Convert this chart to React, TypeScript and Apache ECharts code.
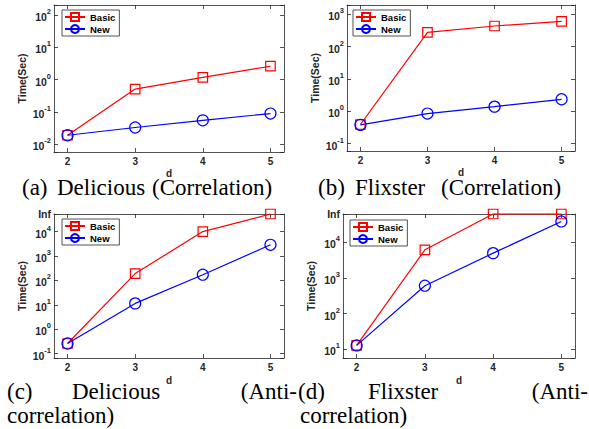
import React, { useEffect, useRef } from 'react';
import * as echarts from 'echarts';

// x values (d)
const dValues = [2, 3, 4, 5];

// (a) Delicious (Correlation)
const basicA = [0.019, 0.51, 1.18, 2.6];
const newA = [0.019, 0.033, 0.055, 0.089];
// (b) Flixster (Correlation)
const basicB = [0.39, 277, 437, 604];
const newB = [0.38, 0.85, 1.39, 2.35];
// (c) Delicious (Anti-correlation)
const basicC = [0.26, 190, 10000, Infinity];
const newC = [0.26, 11.4, 171, 2870];
// (d) Flixster (Anti-correlation)
const basicD = [12.7, 6200, Infinity, Infinity];
const newD = [12.7, 607, 5000, 39000];

const seriesNames = ['Basic', 'New'];
const yAxisName = 'Time(Sec)';
const xAxisName = 'd';

const SANS = '"Liberation Sans", Arial, Helvetica, sans-serif';
const SERIF = '"Liberation Serif", "Times New Roman", serif';
const AX = '#262626';

const panels = [
  { basic: basicA, neu: newA, yMin: Math.pow(10, -2.24), yMax: Math.pow(10, 2.31), hasInf: false, xNameGap: 16,
    grid: { left: 54, top: 5, width: 230, height: 147 }, legend: { left: 62, top: 10 } },
  { basic: basicB, neu: newB, yMin: Math.pow(10, -1.23), yMax: Math.pow(10, 3.29), hasInf: false, xNameGap: 16,
    grid: { left: 347, top: 5, width: 228, height: 146 }, legend: { left: 353, top: 10 } },
  { basic: basicC, neu: newC, yMin: Math.pow(10, -1.18), yMax: Math.pow(10, 4.72), hasInf: true, xNameGap: 17.5,
    grid: { left: 54, top: 214, width: 230, height: 144 }, legend: { left: 62, top: 219 } },
  { basic: basicD, neu: newD, yMin: Math.pow(10, 0.75), yMax: Math.pow(10, 4.8), hasInf: true, xNameGap: 17.5,
    grid: { left: 343, top: 214, width: 232, height: 144 }, legend: { left: 350, top: 220 } },
];

const captions = [
  { text: '(a)', x: 22, y: 187, align: 'left' },
  { text: 'Delicious', x: 57, y: 187, align: 'left' },
  { text: '(Correlation)', x: 152, y: 187, align: 'left' },
  { text: '(b)', x: 318, y: 187, align: 'left' },
  { text: 'Flixster', x: 355, y: 187, align: 'left' },
  { text: '(Correlation)', x: 441, y: 187, align: 'left' },
  { text: '(c)', x: 7, y: 391, align: 'left' },
  { text: 'Delicious', x: 72, y: 391, align: 'left' },
  { text: '(Anti-', x: 297, y: 391, align: 'right' },
  { text: 'correlation)', x: 7, y: 415, align: 'left' },
  { text: '(d)', x: 298, y: 391, align: 'left' },
  { text: 'Flixster', x: 368, y: 391, align: 'left' },
  { text: '(Anti-', x: 588, y: 391, align: 'right' },
  { text: 'correlation)', x: 300, y: 415, align: 'left' },
];

const axisLineStyle = { color: AX, width: 0.8 };

function makeFormatter(infVal: number | null) {
  return (v: number) => {
    if (infVal !== null && v >= infVal * 0.999) return '{n|Inf}';
    const l = Math.log10(v);
    const r = Math.round(l);
    if (Math.abs(l - r) > 1e-6) return '';
    return `{b|10}{s|${r}}`;
  };
}

const rich = {
  b: { fontFamily: SANS, fontWeight: 'bold', fontSize: 10.5, color: AX, lineHeight: 15, verticalAlign: 'bottom' },
  s: { fontFamily: SANS, fontWeight: 'bold', fontSize: 7.5, color: AX, verticalAlign: 'top' },
  n: { fontFamily: SANS, fontWeight: 'bold', fontSize: 10.5, color: AX, lineHeight: 15 },
};

function toPlot(v: number, yMax: number) {
  return Number.isFinite(v) ? v : yMax;
}

export default function App() {
  const ref = useRef<HTMLDivElement>(null);
  useEffect(() => {
    if (!ref.current) return;
    const chart = echarts.init(ref.current, null, { renderer: 'svg' });

    const grid = panels.map((p) => ({ ...p.grid }));
    const xAxis: any[] = [];
    const yAxis: any[] = [];
    const series: any[] = [];
    const legend: any[] = [];

    panels.forEach((p, i) => {
      xAxis.push({
        gridIndex: i, type: 'value', min: 1.8, max: 5.2, position: 'bottom',
        name: xAxisName, nameLocation: 'middle', nameGap: p.xNameGap,
        nameTextStyle: { fontFamily: SANS, fontWeight: 'bold', fontSize: 10, color: AX },
        axisLine: { show: true, onZero: false, lineStyle: axisLineStyle },
        axisTick: { show: true, inside: true, length: 4, customValues: dValues, lineStyle: axisLineStyle },
        axisLabel: { customValues: dValues, margin: 4, fontFamily: SANS, fontWeight: 'bold', fontSize: 10, color: AX },
        splitLine: { show: false },
      });
      xAxis.push({
        gridIndex: i, type: 'value', min: 1.8, max: 5.2, position: 'top',
        axisLine: { show: true, onZero: false, lineStyle: axisLineStyle },
        axisTick: { show: true, inside: true, length: 4, customValues: dValues, lineStyle: axisLineStyle },
        axisLabel: { show: false },
        splitLine: { show: false },
      });
      yAxis.push({
        gridIndex: i, type: 'log', logBase: 10, min: p.yMin, max: p.yMax, position: 'left',
        name: yAxisName, nameLocation: 'middle', nameGap: 27, nameRotate: 90,
        nameTextStyle: { fontFamily: SANS, fontWeight: 'bold', fontSize: 10.5, color: AX },
        axisLine: { show: true, onZero: false, lineStyle: axisLineStyle },
        axisTick: { show: true, inside: true, length: 4, lineStyle: axisLineStyle },
        axisLabel: { formatter: makeFormatter(p.hasInf ? p.yMax : null), rich, margin: 3, showMinLabel: true, showMaxLabel: true },
        splitLine: { show: false },
        minorTick: { show: false },
      });
      yAxis.push({
        gridIndex: i, type: 'log', logBase: 10, min: p.yMin, max: p.yMax, position: 'right',
        axisLine: { show: true, onZero: false, lineStyle: axisLineStyle },
        axisTick: { show: true, inside: true, length: 4, lineStyle: axisLineStyle },
        axisLabel: { show: false },
        splitLine: { show: false },
      });
      series.push({
        name: seriesNames[0], type: 'line', xAxisIndex: 2 * i, yAxisIndex: 2 * i, clip: false,
        data: dValues.map((d, k) => [d, toPlot(p.basic[k], p.yMax)]),
        symbol: 'rect', symbolSize: 9.5,
        lineStyle: { color: '#ff0000', width: 1.2 },
        itemStyle: { color: 'rgba(255,255,255,0)', borderColor: '#ff0000', borderWidth: 1.2 },
        z: 3,
      });
      series.push({
        name: seriesNames[1], type: 'line', xAxisIndex: 2 * i, yAxisIndex: 2 * i, clip: false,
        data: dValues.map((d, k) => [d, toPlot(p.neu[k], p.yMax)]),
        symbol: 'circle', symbolSize: 11,
        lineStyle: { color: '#0000ff', width: 1.2 },
        itemStyle: { color: 'rgba(255,255,255,0)', borderColor: '#0000ff', borderWidth: 1.2 },
        z: 3,
      });
      legend.push({
        orient: 'vertical', left: p.legend.left, top: p.legend.top,
        data: seriesNames, itemWidth: 20, itemHeight: 10, itemGap: 2,
        padding: [2, 4, 2, 2], backgroundColor: '#fff', borderColor: AX, borderWidth: 0.8,
        selectedMode: false,
        textStyle: { fontFamily: SANS, fontWeight: 'bold', fontSize: 9.5, color: '#000' },
      });
    });

    const graphic = captions.map((c) => ({
      type: 'text', x: c.x, y: c.y, z: 0,
      style: { text: c.text, fontFamily: SERIF, fontSize: 23, fill: '#000', align: c.align, verticalAlign: 'middle' },
    }));

    chart.setOption({
      animation: false,
      backgroundColor: '#fff',
      grid, xAxis, yAxis, series, legend, graphic,
    });
    return () => chart.dispose();
  }, []);
  return <div ref={ref} style={{ position: 'absolute', left: 0, top: 0, width: 589, height: 429 }} />;
}
